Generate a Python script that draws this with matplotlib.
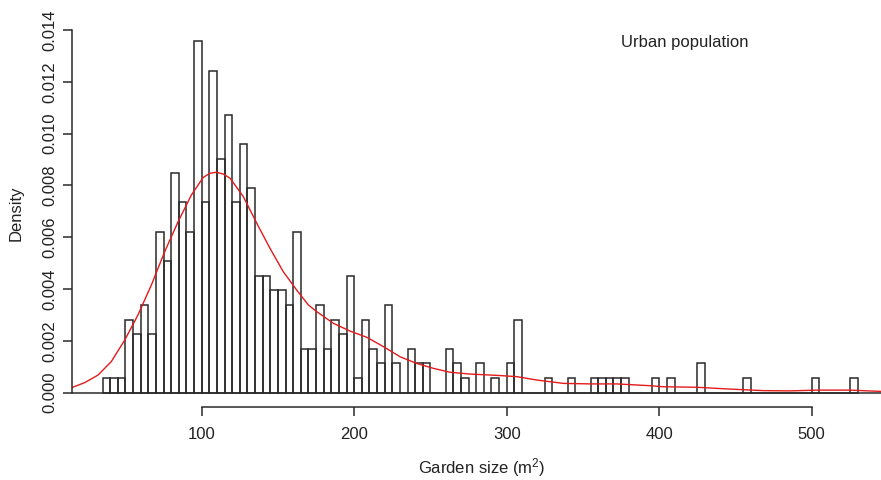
import numpy as np
import matplotlib
matplotlib.use("Agg")
import matplotlib.pyplot as plt

plt.rcParams['font.family'] = ['Liberation Sans', 'DejaVu Sans']
plt.rcParams['mathtext.default'] = 'regular'

# garden sizes, 5 m2 bins starting at 35
bin_start = 35
bin_width = 5
counts = [1, 1, 1, 5, 4, 6, 4, 11, 9, 15, 13, 11, 24, 13, 22, 16, 19,
          13, 17, 14, 8, 8, 7, 7, 6, 11, 3, 3, 6, 3, 5, 4, 8, 1, 5, 3, 2,
          6, 2, 0, 3, 2, 2, 0, 0, 3, 2, 1, 0, 2, 0, 1, 0, 2, 5, 0, 0, 0,
          1, 0, 0, 1, 0, 0, 1, 1, 1, 1, 1, 0, 0, 0, 1, 0, 1, 0, 0, 0, 2,
          0, 0, 0, 0, 0, 1, 0, 0, 0, 0, 0, 0, 0, 0, 1, 0, 0, 0, 0, 1]

# kernel density curve
dens_x = [14.5, 23.3, 32, 40.7, 49.5, 58.2, 67, 75.7, 84.5, 93.2, 101, 105.4,
          109.7, 114.2, 118.6, 127.3, 136.1, 144.8, 153.5, 162.3, 169.9,
          175.4, 186.3, 197.2, 208.2, 219.1, 230, 241, 251.9, 262.8, 275.9,
          293.4, 306.6, 319.7, 337.1, 354.6, 372.1, 394, 402.7, 424.6, 446.4,
          468.3, 485.8, 503.3, 525.1, 545.4]
dens_y = [0.00019, 0.00039, 0.00068, 0.0012, 0.00203, 0.0030, 0.00416,
          0.00544, 0.0066, 0.00763, 0.00831, 0.00847, 0.00851, 0.00844,
          0.00828, 0.00757, 0.00654, 0.00557, 0.00467, 0.00396, 0.00339,
          0.00313, 0.00268, 0.00238, 0.00214, 0.00178, 0.00139, 0.00113,
          0.00094, 0.00079, 0.00072, 0.00067, 0.00062, 0.00049, 0.00036,
          0.00034, 0.00034, 0.00027, 0.00023, 0.00021, 0.00014, 0.00008,
          0.00007, 0.0001, 0.0001, 0.00005]

xticks = [100, 200, 300, 400, 500]
yticks = [0.000, 0.002, 0.004, 0.006, 0.008, 0.010, 0.012, 0.014]

W, H = 881, 480
fig = plt.figure(figsize=(W / 100, H / 100), dpi=100)
left, right, top, bottom = 71.7, 881, 19.5, 406.7
ax = fig.add_axes([left / W, 1 - bottom / H, (right - left) / W, (bottom - top) / H])

edges = bin_start + bin_width * np.arange(len(counts) + 1)
centers = edges[:-1] + bin_width / 2
ax.hist(centers, bins=edges, weights=counts, density=True, histtype='bar',
        fill=False, edgecolor='#2a2a2a', linewidth=1.1)
ax.axhline(0, color='#2a2a2a', lw=1.1)
ax.plot(dens_x, dens_y, color='#e41a1c', lw=1.0)

ax.set_xlim(14.75, 545.4)
ax.set_ylim(-0.00054, 0.014407)

for s in ['top', 'right']:
    ax.spines[s].set_visible(False)
ax.spines['left'].set_bounds(0, 0.014)
ax.spines['bottom'].set_bounds(100, 500)
for s in ['left', 'bottom']:
    ax.spines[s].set_color('#2a2a2a')
    ax.spines[s].set_linewidth(1.1)

ax.set_xticks(xticks)
ax.set_xticklabels([str(v) for v in xticks])
ax.set_yticks(yticks)
ax.set_yticklabels(['%.3f' % v for v in yticks], rotation=90, va='center')
ax.tick_params(direction='out', length=6.3, width=1.1, color='#2a2a2a',
               labelsize=12, labelcolor='#222222')
ax.tick_params(axis='x', pad=8)
ax.tick_params(axis='y', pad=4)

fig.text(16.5 / W, 1 - 213 / H, 'Density', rotation=90, ha='center', va='center',
         fontsize=12, color='#222222')
fig.text(481.7 / W, 1 - 467.3 / H, 'Garden size (m$^{2}$)', ha='center', va='center',
         fontsize=12, color='#222222')
fig.text(685 / W, 1 - 42.7 / H, 'Urban population', ha='center', va='center',
         fontsize=12, color='#222222')

fig.savefig('out.png', dpi=100)
